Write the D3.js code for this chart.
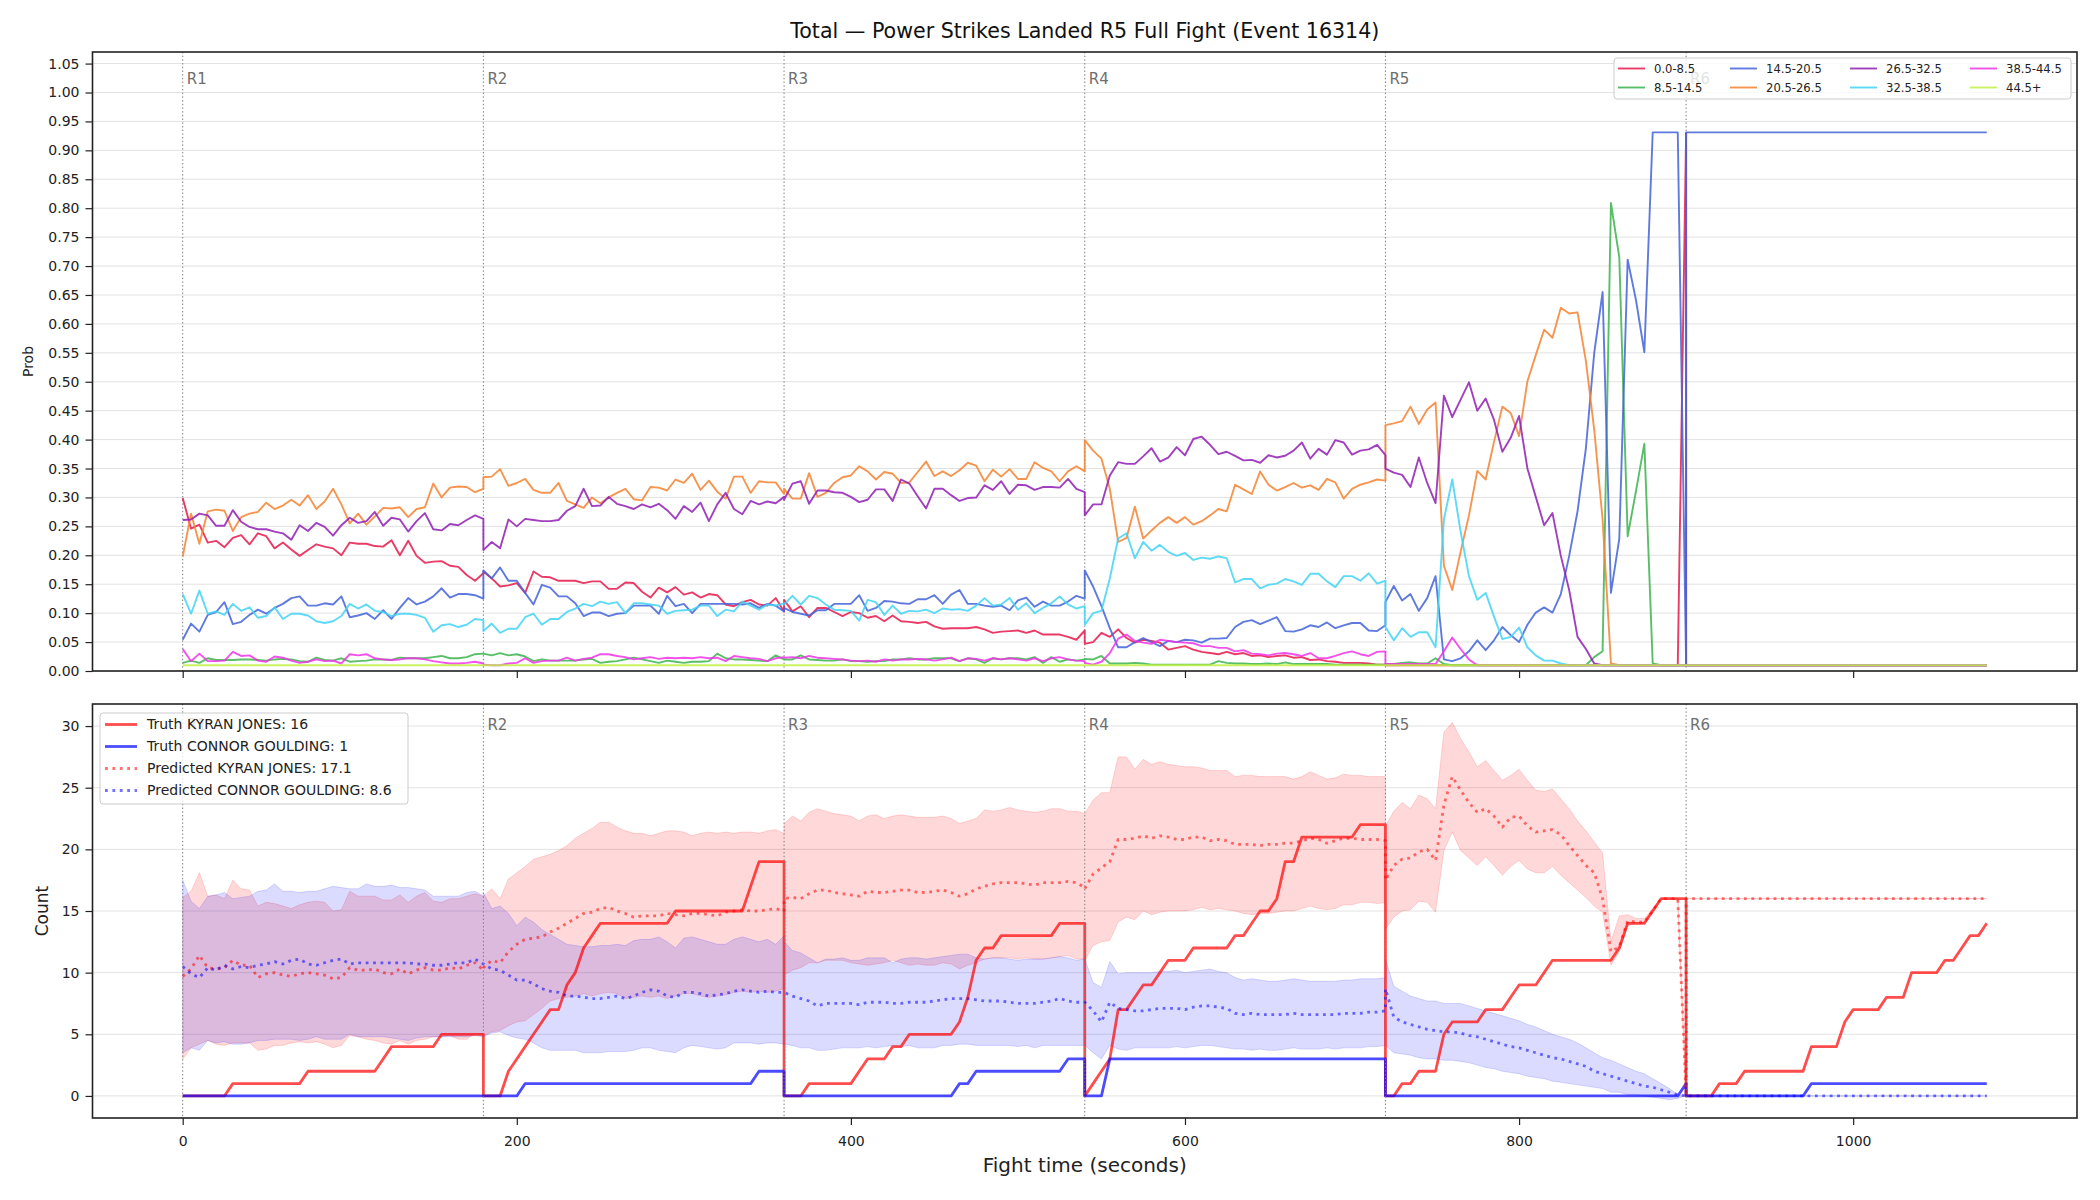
<!DOCTYPE html>
<html>
<head>
<meta charset="utf-8">
<script src="https://cdn.jsdelivr.net/npm/d3@7"></script>
<style>
  body { margin: 0; background: #fff; }
</style>
</head>
<body>
<svg id="chart" width="2100" height="1200"></svg>
<script>
//* Time grid: every round is sampled 0..180 s in 5 s steps
const roundStarts = [0, 180, 360, 540, 720, 900];
const roundNames = ["R1", "R2", "R3", "R4", "R5", "R6"];
const roundOffsets = [0,5,10,15,20,25,30,35,40,45,50,55,60,65,70,75,80,85,90,95,100,105,110,115,120,125,130,135,140,145,150,155,160,165,170,175,180];

//* Top panel: probability per bin (one line per round)
const binLabels = ["0.0-8.5", "8.5-14.5", "14.5-20.5", "20.5-26.5", "26.5-32.5", "32.5-38.5", "38.5-44.5", "44.5+"];

const prob00_85 = [
  .299,.246,.253,.222,.225,.214,.230,.235,.219,.238, .233,.212,.222,.210,.199,.209,.219,.215,.212,.200, .222,.220,.220,.216,.215,.226,.200,.225,.199,.187, .189,.190,.182,.180,.166,.156,.169,
  .172,.160,.146,.148,.152,.135,.172,.163,.162,.156, .156,.156,.152,.155,.155,.142,.142,.153,.152,.137, .127,.144,.136,.145,.132,.136,.127,.133,.131,.115, .112,.119,.123,.115,.113,.126,.103,
  .123,.103,.112,.093,.109,.109,.102,.095,.102,.100, .092,.095,.086,.096,.086,.085,.083,.085,.077,.073, .074,.074,.074,.076,.072,.066,.068,.069,.070,.066, .070,.063,.063,.063,.059,.054,.070,
  .047,.050,.066,.059,.072,.057,.049,.054,.052,.049, .037,.040,.043,.037,.033,.031,.029,.033,.029,.031, .026,.027,.024,.026,.027,.023,.024,.019,.020,.017, .016,.014,.014,.014,.013,.011,.011,
  .010,.010,.010,.010,.010,.010,.010,.010,.010,.010, .010,.010,.010,.010,.010,.010,.010,.010,.010,.010, .010,.010,.010,.010,.010,.010,.010,.010,.010,.010, .010,.010,.010,.010,.010,.010,.930,
  .010,.010,.010,.010,.010,.010,.010,.010,.010,.010, .010,.010,.010,.010,.010,.010,.010,.010,.010,.010, .010,.010,.010,.010,.010,.010,.010,.010,.010,.010, .010,.010,.010,.010,.010,.010,.010
];
const prob85_145 = [
  .014,.018,.014,.022,.019,.019,.019,.020,.020,.019, .018,.020,.021,.020,.017,.016,.023,.019,.018,.022, .016,.017,.018,.020,.020,.019,.023,.022,.022,.022, .024,.026,.022,.022,.024,.029,.030,
  .030,.027,.031,.027,.029,.025,.017,.020,.018,.018, .018,.018,.020,.021,.014,.016,.017,.020,.023,.020, .017,.014,.018,.016,.014,.016,.016,.017,.030,.022, .020,.020,.019,.018,.017,.027,.020,
  .020,.020,.027,.020,.019,.018,.018,.020,.017,.017, .016,.017,.017,.020,.020,.022,.020,.020,.022,.022, .022,.017,.022,.020,.014,.022,.020,.022,.022,.020, .024,.014,.024,.016,.020,.018,.020,
  .021,.020,.026,.013,.013,.013,.014,.013,.011,.011, .011,.011,.011,.011,.011,.011,.017,.014,.013,.013, .012,.012,.013,.012,.015,.012,.012,.012,.012,.012, .011,.011,.011,.011,.011,.011,.011,
  .012,.012,.014,.015,.013,.013,.022,.012,.010,.010, .010,.010,.010,.010,.010,.010,.010,.010,.010,.010, .010,.010,.010,.010,.010,.024,.034,.809,.715,.233, .311,.393,.013,.010,.010,.010,.010,
  .010,.010,.010,.010,.010,.010,.010,.010,.010,.010, .010,.010,.010,.010,.010,.010,.010,.010,.010,.010, .010,.010,.010,.010,.010,.010,.010,.010,.010,.010, .010,.010,.010,.010,.010,.010,.010
];
const prob145_205 = [
  .054,.082,.068,.097,.102,.119,.081,.085,.097,.106, .099,.109,.116,.126,.129,.113,.113,.117,.115,.129, .093,.096,.100,.090,.105,.090,.109,.126,.115,.120, .129,.143,.127,.133,.133,.131,.125,
  .174,.160,.179,.156,.156,.135,.115,.149,.144,.129, .129,.117,.095,.101,.101,.095,.099,.100,.113,.113, .113,.099,.130,.112,.116,.100,.116,.116,.116,.116, .116,.115,.117,.109,.116,.113,.103,
  .109,.102,.099,.096,.105,.105,.116,.116,.116,.131, .104,.109,.121,.120,.117,.116,.124,.124,.131,.116, .132,.140,.116,.116,.113,.111,.113,.105,.122,.127, .111,.120,.113,.113,.120,.130,.125,
  .174,.146,.112,.074,.041,.041,.050,.057,.050,.043, .052,.050,.054,.053,.049,.056,.056,.057,.076,.085, .088,.081,.087,.093,.069,.068,.072,.079,.076,.084, .074,.079,.083,.083,.070,.069,.079,
  .119,.147,.122,.133,.104,.126,.164,.020,.017,.022, .034,.053,.036,.053,.076,.062,.050,.080,.101,.110, .101,.133,.199,.276,.385,.550,.655,.135,.229,.711, .641,.551,.931,.931,.931,.931,.010,
  .931,.931,.931,.931,.931,.931,.931,.931,.931,.931, .931,.931,.931,.931,.931,.931,.931,.931,.931,.931, .931,.931,.931,.931,.931,.931,.931,.931,.931,.931, .931,.931,.931,.931,.931,.931,.931
];
const prob205_265 = [
  .198,.272,.220,.276,.279,.277,.242,.266,.272,.275, .291,.280,.286,.296,.286,.304,.280,.293,.315,.288, .255,.272,.253,.267,.282,.281,.283,.266,.280,.283, .324,.300,.317,.319,.318,.309,.315,
  .335,.336,.349,.320,.325,.332,.313,.308,.308,.325, .294,.288,.282,.300,.290,.300,.308,.315,.297,.295, .318,.317,.312,.331,.325,.341,.313,.329,.310,.298, .336,.336,.308,.328,.326,.326,.306,
  .315,.298,.298,.342,.301,.308,.325,.335,.338,.354, .345,.331,.344,.341,.325,.326,.344,.362,.337,.345, .337,.347,.360,.355,.328,.348,.336,.349,.332,.332, .361,.351,.345,.328,.345,.354,.345,
  .399,.381,.367,.315,.223,.230,.284,.229,.243,.256, .266,.256,.266,.253,.259,.269,.280,.276,.322,.314, .306,.345,.322,.312,.318,.325,.317,.321,.313,.332, .326,.298,.315,.322,.326,.331,.329,
  .425,.428,.432,.457,.427,.452,.464,.182,.140,.206, .269,.346,.331,.396,.457,.446,.406,.501,.546,.590, .576,.628,.618,.620,.536,.417,.262,.013,.010,.010, .010,.010,.010,.010,.010,.010,.010,
  .010,.010,.010,.010,.010,.010,.010,.010,.010,.010, .010,.010,.010,.010,.010,.010,.010,.010,.010,.010, .010,.010,.010,.010,.010,.010,.010,.010,.010,.010, .010,.010,.010,.010,.010,.010,.010
];
const prob265_325 = [
  .261,.262,.272,.269,.251,.251,.278,.258,.249,.245, .245,.241,.238,.227,.252,.242,.256,.249,.234,.252, .265,.256,.259,.275,.251,.265,.262,.241,.259,.273, .245,.243,.254,.252,.261,.269,.263,
  .209,.223,.212,.262,.250,.263,.261,.259,.259,.261, .277,.285,.315,.285,.286,.301,.289,.285,.280,.288, .283,.289,.278,.263,.285,.275,.291,.259,.288,.308, .280,.271,.294,.288,.293,.290,.301,
  .296,.324,.328,.289,.312,.312,.309,.308,.301,.292, .296,.314,.314,.294,.331,.324,.302,.281,.315,.315, .304,.294,.299,.300,.321,.313,.328,.306,.322,.321, .313,.318,.318,.317,.332,.315,.309,
  .269,.288,.288,.338,.361,.358,.358,.371,.385,.362, .369,.387,.373,.401,.405,.391,.375,.379,.372,.364, .365,.360,.373,.369,.372,.381,.395,.367,.384,.374, .399,.395,.374,.381,.383,.391,.373,
  .350,.343,.339,.318,.369,.325,.290,.476,.439,.469, .499,.450,.471,.434,.379,.403,.441,.350,.301,.252, .273,.199,.140,.059,.038,.013,.010,.010,.010,.010, .010,.010,.010,.010,.010,.010,.010,
  .010,.010,.010,.010,.010,.010,.010,.010,.010,.010, .010,.010,.010,.010,.010,.010,.010,.010,.010,.010, .010,.010,.010,.010,.010,.010,.010,.010,.010,.010, .010,.010,.010,.010,.010,.010,.010
];
const prob325_385 = [
  .133,.099,.139,.099,.103,.097,.116,.104,.110,.092, .095,.110,.090,.099,.099,.096,.086,.083,.086,.095, .116,.108,.115,.104,.102,.095,.099,.099,.097,.092, .068,.079,.081,.076,.080,.090,.088,
  .069,.082,.066,.073,.073,.093,.099,.080,.090,.090, .102,.108,.116,.112,.120,.116,.119,.100,.117,.117, .115,.113,.099,.104,.105,.106,.113,.113,.095,.106, .103,.120,.113,.106,.115,.113,.117,
  .115,.130,.115,.130,.126,.115,.106,.105,.104,.087, .123,.119,.097,.113,.099,.104,.103,.106,.100,.108, .106,.107,.104,.113,.126,.113,.115,.126,.106,.117, .100,.109,.117,.129,.115,.108,.112,
  .080,.100,.104,.160,.229,.238,.195,.223,.208,.218, .206,.199,.204,.192,.196,.194,.198,.195,.153,.159, .159,.143,.149,.151,.159,.155,.149,.168,.168,.155, .145,.164,.164,.156,.169,.151,.156,
  .076,.053,.074,.059,.067,.067,.041,.262,.331,.241, .164,.123,.135,.094,.055,.059,.075,.041,.027,.018, .018,.013,.010,.010,.010,.010,.010,.010,.010,.010, .010,.010,.010,.010,.010,.010,.010,
  .010,.010,.010,.010,.010,.010,.010,.010,.010,.010, .010,.010,.010,.010,.010,.010,.010,.010,.010,.010, .010,.010,.010,.010,.010,.010,.010,.010,.010,.010, .010,.010,.010,.010,.010,.010,.010
];
const prob385_445 = [
  .038,.017,.030,.017,.017,.018,.033,.026,.027,.018, .016,.025,.023,.018,.014,.016,.020,.017,.018,.013, .029,.027,.029,.022,.020,.019,.020,.022,.022,.020, .017,.015,.013,.013,.014,.016,.013,
  .011,.010,.010,.013,.014,.022,.014,.017,.018,.018, .023,.018,.021,.023,.029,.029,.026,.024,.020,.022, .024,.021,.023,.022,.023,.022,.024,.022,.023,.017, .026,.024,.022,.021,.017,.022,.024,
  .023,.024,.022,.026,.023,.022,.021,.020,.018,.017, .018,.016,.020,.018,.020,.020,.021,.020,.018,.020, .023,.017,.022,.021,.018,.022,.020,.022,.020,.018, .022,.017,.022,.024,.020,.018,.017,
  .014,.011,.016,.031,.056,.063,.052,.049,.047,.054, .052,.050,.049,.048,.043,.043,.040,.040,.034,.036, .030,.029,.027,.030,.031,.029,.026,.031,.022,.022, .026,.031,.034,.029,.026,.033,.034,
  .012,.012,.012,.012,.012,.012,.012,.034,.058,.038, .020,.010,.010,.010,.010,.010,.010,.010,.010,.010, .010,.010,.010,.010,.010,.010,.010,.010,.010,.010, .010,.010,.010,.010,.010,.010,.010,
  .010,.010,.010,.010,.010,.010,.010,.010,.010,.010, .010,.010,.010,.010,.010,.010,.010,.010,.010,.010, .010,.010,.010,.010,.010,.010,.010,.010,.010,.010, .010,.010,.010,.010,.010,.010,.010
];
const prob445p = [
  .010,.010,.010,.010,.010,.010,.010,.010,.010,.010, .010,.010,.010,.010,.010,.010,.010,.010,.010,.010, .010,.010,.010,.010,.010,.010,.010,.010,.010,.010, .010,.010,.010,.010,.010,.010,.010,
  .010,.010,.010,.010,.010,.010,.010,.010,.010,.010, .010,.010,.010,.010,.010,.010,.010,.010,.010,.010, .010,.010,.010,.010,.010,.010,.010,.010,.010,.010, .010,.010,.010,.010,.010,.010,.010,
  .010,.010,.010,.010,.010,.010,.010,.010,.010,.010, .010,.010,.010,.010,.010,.010,.010,.010,.010,.010, .010,.010,.010,.010,.010,.010,.010,.010,.010,.010, .010,.010,.010,.010,.010,.010,.010,
  .010,.010,.010,.010,.010,.010,.010,.010,.010,.010, .010,.010,.010,.010,.010,.010,.010,.010,.010,.010, .010,.010,.010,.010,.010,.010,.010,.010,.010,.010, .010,.010,.010,.010,.010,.010,.010,
  .010,.010,.010,.010,.010,.010,.010,.010,.010,.010, .010,.010,.010,.010,.010,.010,.010,.010,.010,.010, .010,.010,.010,.010,.010,.010,.010,.010,.010,.010, .010,.010,.010,.010,.010,.010,.010,
  .010,.010,.010,.010,.010,.010,.010,.010,.010,.010, .010,.010,.010,.010,.010,.010,.010,.010,.010,.010, .010,.010,.010,.010,.010,.010,.010,.010,.010,.010, .010,.010,.010,.010,.010,.010,.010
];

//* Bottom panel: counts
const truthKyran = [
  0,0,0,0,0,0,1,1,1,1, 1,1,1,1,1,2,2,2,2,2, 2,2,2,2,3,4,4,4,4,4, 4,5,5,5,5,5,5,
  0,0,0,2,3,4,5,6,7,7, 9,10,12,13,14,14,14,14,14,14, 14,14,14,15,15,15,15,15,15,15, 15,15,17,19,19,19,19,
  0,0,0,1,1,1,1,1,1,2, 3,3,3,4,4,5,5,5,5,5, 5,6,8,11,12,12,13,13,13,13, 13,13,13,14,14,14,14,
  0,1,2,3,7,7,8,9,9,10, 11,11,11,12,12,12,12,12,13,13, 14,15,15,16,19,19,21,21,21,21, 21,21,21,22,22,22,22,
  0,0,1,1,2,2,2,5,6,6, 6,6,7,7,7,8,9,9,9,10, 11,11,11,11,11,11,11,11,12,14, 14,14,15,16,16,16,16,
  0,0,0,0,1,1,1,2,2,2, 2,2,2,2,2,4,4,4,4,6, 7,7,7,7,8,8,8,10,10,10, 10,11,11,12,13,13,14
];
const truthConnor = [
  0,0,0,0,0,0,0,0,0,0, 0,0,0,0,0,0,0,0,0,0, 0,0,0,0,0,0,0,0,0,0, 0,0,0,0,0,0,0,
  0,0,0,0,0,1,1,1,1,1, 1,1,1,1,1,1,1,1,1,1, 1,1,1,1,1,1,1,1,1,1, 1,1,1,2,2,2,2,
  0,0,0,0,0,0,0,0,0,0, 0,0,0,0,0,0,0,0,0,0, 0,1,1,2,2,2,2,2,2,2, 2,2,2,2,3,3,3,
  0,0,0,3,3,3,3,3,3,3, 3,3,3,3,3,3,3,3,3,3, 3,3,3,3,3,3,3,3,3,3, 3,3,3,3,3,3,3,
  0,0,0,0,0,0,0,0,0,0, 0,0,0,0,0,0,0,0,0,0, 0,0,0,0,0,0,0,0,0,0, 0,0,0,0,0,0,1,
  0,0,0,0,0,0,0,0,0,0, 0,0,0,0,0,1,1,1,1,1, 1,1,1,1,1,1,1,1,1,1, 1,1,1,1,1,1,1
];
const predKyran = [
  9.7,10.3,11.4,10.4,10.3,10.4,11.0,10.6,10.6,9.6, 9.9,10.0,9.8,9.7,9.9,10.0,9.9,9.8,9.5,9.6, 10.4,10.2,10.2,10.3,10.0,9.9,10.3,9.9,10.2,10.4, 10.2,10.2,10.4,10.3,10.6,10.8,10.2,
  10.4,11.0,10.8,11.7,12.3,12.7,12.8,12.9,13.3,13.6, 14.0,14.4,14.8,14.9,15.2,15.3,15.0,14.8,14.5,14.6, 14.6,14.6,14.8,14.7,14.6,14.8,14.8,14.7,14.6,14.9, 15.0,15.1,15.0,15.0,15.1,15.2,15.0,
  16.0,16.1,16.0,16.4,16.7,16.7,16.5,16.4,16.3,16.2, 16.6,16.5,16.5,16.6,16.7,16.7,16.5,16.5,16.6,16.7, 16.5,16.2,16.4,16.8,17.0,17.2,17.3,17.3,17.3,17.2, 17.1,17.3,17.3,17.3,17.4,17.3,16.9,
  16.8,18.0,18.5,19.0,20.8,20.8,20.9,21.1,20.9,21.1, 21.0,20.8,20.8,21.0,21.0,20.7,20.8,20.7,20.4,20.4, 20.4,20.3,20.4,20.4,20.5,20.5,20.7,20.9,20.8,20.5, 20.7,20.9,20.9,20.8,20.8,20.8,20.7,
  17.5,18.7,19.2,19.3,19.8,20.0,19.1,23.6,25.9,24.8, 23.8,23.0,23.3,22.7,21.8,22.6,22.7,21.9,21.4,21.5, 21.6,21.2,20.3,19.5,18.7,18.1,16.0,11.7,12.1,14.2, 14.1,14.1,15.0,16.0,16.0,16.0,0,
  16.0,16.0,16.0,16.0,16.0,16.0,16.0,16.0,16.0,16.0, 16.0,16.0,16.0,16.0,16.0,16.0,16.0,16.0,16.0,16.0, 16.0,16.0,16.0,16.0,16.0,16.0,16.0,16.0,16.0,16.0, 16.0,16.0,16.0,16.0,16.0,16.0,16.0
];
const predConnor = [
  10.5,9.9,9.6,10.4,10.2,10.6,10.3,10.5,10.4,10.6, 10.7,10.9,10.7,11.0,11.1,10.7,10.6,10.8,11.0,11.1, 10.7,10.8,10.8,10.8,10.8,10.8,10.8,10.8,10.7,10.7, 10.6,10.6,10.7,10.8,10.8,11.1,10.7,
  10.7,10.3,10.2,9.8,9.4,9.4,9.1,8.7,8.5,8.4, 8.1,8.1,8.0,7.9,7.9,8.0,8.1,7.9,8.1,8.4, 8.6,8.5,8.1,8.0,8.4,8.4,8.3,8.1,8.2,8.3, 8.5,8.6,8.5,8.4,8.5,8.4,8.4,
  8.4,8.1,7.9,7.7,7.3,7.5,7.5,7.5,7.5,7.4, 7.6,7.6,7.6,7.5,7.5,7.6,7.6,7.6,7.7,7.8, 7.9,7.9,7.9,7.8,7.7,7.7,7.7,7.6,7.5,7.5, 7.5,7.6,7.7,7.9,7.7,7.6,7.6,
  7.6,6.9,6.0,7.6,7.1,7.0,6.9,6.9,7.0,7.1, 7.1,7.1,7.0,7.2,7.3,7.3,7.2,7.1,6.7,6.6, 6.7,6.6,6.6,6.6,6.6,6.7,6.6,6.6,6.6,6.6, 6.6,6.7,6.7,6.7,6.8,6.8,6.9,
  8.7,6.4,6.0,5.8,5.6,5.4,5.3,5.2,5.2,5.1, 4.9,4.8,4.6,4.4,4.2,4.0,3.9,3.7,3.5,3.3, 3.1,3.0,2.8,2.6,2.4,2.0,1.8,1.6,1.4,1.2, 1.0,0.8,0.7,0.5,0.3,0.1,0,
  0,0,0,0,0,0,0,0,0,0, 0,0,0,0,0,0,0,0,0,0, 0,0,0,0,0,0,0,0,0,0, 0,0,0,0,0,0,0
];
const kyranLow = [
  3.0,3.9,4.2,4.5,4.2,4.1,4.3,4.3,4.3,3.7, 3.8,4.1,4.1,4.3,4.4,4.3,4.4,4.2,3.9,4.1, 4.9,4.8,4.6,4.5,4.3,4.2,4.5,4.2,4.5,4.6, 4.8,4.8,4.9,4.6,4.6,5.1,4.9,
  4.9,5.2,5.3,5.7,6.0,6.1,6.6,7.1,7.7,7.9, 8.0,8.1,8.3,8.1,8.3,8.4,8.3,7.9,8.0,8.1, 8.0,8.1,7.9,8.1,8.3,8.3,8.1,8.0,8.1,8.2, 8.4,8.5,8.4,8.5,8.4,8.5,8.7,
  9.8,10.2,10.4,10.8,10.8,11.0,11.0,11.0,10.8,10.7, 10.6,10.7,10.8,11.0,10.8,10.6,10.7,10.6,10.6,10.8, 10.7,10.3,10.6,10.8,11.1,11.2,11.2,11.2,11.1,11.2, 11.1,11.1,11.2,11.3,11.4,11.1,11.1,
  11.0,12.2,12.5,12.6,14.1,14.5,14.3,15.0,14.7,14.9, 15.0,15.0,15.0,15.1,15.3,15.1,15.2,15.1,15.0,14.8, 14.7,14.8,14.8,14.9,15.0,15.0,15.2,15.4,15.2,15.1, 15.2,15.5,15.5,15.7,15.7,15.6,15.7,
  13.5,14.5,15.0,15.1,15.8,15.7,14.9,19.9,21.4,19.9, 19.3,18.7,19.4,18.7,17.9,18.6,19.1,18.4,18.1,18.1, 18.6,17.9,17.3,16.7,16.1,15.4,14.9,10.6,11.7,13.8, 14.0,14.0,14.9,16.0,16.0,16.0,0,
  16.0,16.0,16.0,16.0,16.0,16.0,16.0,16.0,16.0,16.0, 16.0,16.0,16.0,16.0,16.0,16.0,16.0,16.0,16.0,16.0, 16.0,16.0,16.0,16.0,16.0,16.0,16.0,16.0,16.0,16.0, 16.0,16.0,16.0,16.0,16.0,16.0,16.0
];
const kyranHigh = [
  16.1,16.6,18.1,16.2,16.3,16.0,17.5,16.8,16.7,15.4, 15.7,15.6,15.4,15.2,15.5,15.7,15.8,15.7,15.0,15.1, 16.6,16.2,16.2,16.2,15.9,15.9,16.3,15.7,16.2,16.5, 15.8,15.7,16.0,16.0,16.2,16.4,16.2,
  16.2,16.8,16.0,17.6,18.1,18.6,19.2,19.4,19.6,19.9, 20.3,20.9,21.3,21.7,22.2,22.2,21.8,21.5,21.3,21.3, 21.1,21.3,21.5,21.5,21.4,21.1,21.3,21.4,21.3,21.4, 21.3,21.4,21.4,21.3,21.5,21.6,21.3,
  22.1,22.7,22.3,23.0,23.3,23.1,22.9,22.8,22.7,22.3, 22.7,22.8,22.5,22.7,22.8,22.7,22.6,22.6,22.6,22.7, 22.5,22.1,22.3,22.5,23.2,23.1,23.2,23.4,23.2,23.1, 23.0,23.1,23.3,23.3,23.1,23.1,22.9,
  22.9,24.0,24.6,24.6,27.5,27.5,26.5,27.3,26.9,27.1, 26.9,26.8,26.7,26.7,26.6,26.4,26.4,26.4,25.9,26.0, 26.0,25.9,25.9,25.9,25.9,25.7,25.9,26.3,26.0,25.7, 25.8,26.1,26.0,26.0,25.9,25.9,25.9,
  21.9,23.1,23.8,23.3,24.4,24.1,23.3,29.5,30.3,29.0, 27.9,26.7,27.2,26.4,25.6,26.0,26.5,25.6,24.8,24.7, 24.9,24.1,23.3,22.3,21.5,20.6,19.7,12.5,14.6,14.7, 14.4,14.4,15.2,16.0,16.0,16.0,0,
  16.0,16.0,16.0,16.0,16.0,16.0,16.0,16.0,16.0,16.0, 16.0,16.0,16.0,16.0,16.0,16.0,16.0,16.0,16.0,16.0, 16.0,16.0,16.0,16.0,16.0,16.0,16.0,16.0,16.0,16.0, 16.0,16.0,16.0,16.0,16.0,16.0,16.0
];
const connorLow = [
  3.5,3.9,3.7,4.5,4.3,4.4,4.2,4.2,4.3,4.5, 4.5,4.6,4.6,4.6,4.5,4.6,4.8,4.6,4.6,4.6, 5.0,4.8,4.8,4.8,4.8,4.7,4.6,4.5,4.7,4.8, 4.8,4.8,4.8,4.8,4.8,4.9,4.8,
  4.8,5.1,5.2,4.9,4.7,4.6,4.3,3.9,3.7,3.7, 3.7,3.7,3.5,3.5,3.5,3.6,3.6,3.6,3.7,3.9, 3.9,3.7,3.6,3.5,3.9,4.1,4.0,3.9,3.8,3.9, 4.3,4.3,4.3,4.2,4.3,4.3,4.2,
  4.2,4.1,3.9,3.9,3.7,3.7,3.8,3.9,3.9,3.9, 4.0,3.9,4.0,4.1,4.0,4.1,3.9,3.9,3.9,4.1, 4.1,4.2,4.2,4.1,4.1,4.1,4.1,4.1,4.0,4.1, 3.9,4.1,4.1,4.1,4.1,4.1,4.1,
  4.1,3.5,3.0,4.1,3.8,3.7,3.9,3.9,3.9,3.9, 3.9,4.0,3.9,4.0,4.1,4.1,4.0,3.9,3.8,3.8, 3.7,3.8,3.7,3.7,3.8,3.9,3.8,3.8,3.8,3.9, 3.8,3.9,3.9,3.9,4.0,4.0,4.1,
  4.1,3.5,3.4,3.3,3.1,3.0,3.0,2.9,2.9,2.8, 2.7,2.5,2.3,2.2,2.0,1.9,1.8,1.6,1.5,1.4, 1.2,1.1,1.0,0.9,0.8,0.7,0.6,0.3,0.3,0.1, 0.1,0.0,-0.1,-0.2,-0.3,-0.2,0,
  0,0,0,0,0,0,0,0,0,0, 0,0,0,0,0,0,0,0,0,0, 0,0,0,0,0,0,0,0,0,0, 0,0,0,0,0,0,0
];
const connorHigh = [
  17.5,15.8,15.2,16.2,16.3,16.5,16.0,16.1,16.2,16.6, 16.7,17.2,16.6,16.6,16.5,16.6,16.6,16.8,17.0,16.9, 16.8,16.8,17.2,17.0,17.0,17.1,16.9,16.9,16.8,16.7, 16.2,16.2,16.2,16.2,16.5,16.6,16.2,
  16.5,15.2,15.4,14.8,13.8,14.5,14.1,13.5,13.1,12.7, 12.3,12.2,12.1,12.1,12.2,12.2,12.3,12.2,12.6,12.7, 12.7,12.9,12.5,12.0,12.8,12.9,12.7,12.5,12.3,12.3, 12.7,12.9,12.7,12.5,12.7,12.3,13.0,
  12.5,11.8,11.6,11.2,10.8,11.1,11.1,11.2,11.0,11.0, 11.2,11.2,11.2,10.8,11.1,11.2,11.2,11.1,11.2,11.3, 11.4,11.5,11.5,11.2,11.1,11.2,11.2,11.1,11.0,11.1, 11.1,11.1,11.2,11.3,11.2,11.0,11.1,
  11.1,9.2,8.8,10.9,9.9,10.0,10.0,10.0,10.0,10.1, 10.1,10.2,10.0,10.1,10.2,10.3,10.1,10.0,9.6,9.4, 9.5,9.4,9.3,9.3,9.4,9.5,9.4,9.3,9.3,9.3, 9.3,9.4,9.4,9.5,9.5,9.5,9.6,
  11.1,8.9,8.5,8.1,7.9,7.7,7.7,7.5,7.5,7.5, 7.3,7.1,6.9,6.7,6.5,6.3,6.1,5.8,5.6,5.3, 5.0,4.8,4.6,4.3,3.9,3.5,3.1,2.9,2.6,2.3, 2.0,1.8,1.4,1.0,0.6,0.1,0,
  0,0,0,0,0,0,0,0,0,0, 0,0,0,0,0,0,0,0,0,0, 0,0,0,0,0,0,0,0,0,0, 0,0,0,0,0,0,0
];

//* Tick values
const probTicks = [0.00,0.05,0.10,0.15,0.20,0.25,0.30,0.35,0.40,0.45,0.50,0.55,0.60,0.65,0.70,0.75,0.80,0.85,0.90,0.95,1.00,1.05];
const countTicks = [0, 5, 10, 15, 20, 25, 30];
const timeTicks = [0, 200, 400, 600, 800, 1000];

//* Set chart area
const FONT = "DejaVu Sans, sans-serif";
const left = 92.5, right = 2077;
const topBox = { y0: 52, y1: 671 };
const botBox = { y0: 704, y1: 1118 };

const times = roundStarts.flatMap(s => roundOffsets.map(o => s + o));

const allSeries = { prob00_85, prob85_145, prob145_205, prob205_265, prob265_325, prob325_385, prob385_445, prob445p,
  truthKyran, truthConnor, predKyran, predConnor, kyranLow, kyranHigh, connorLow, connorHigh };
Object.entries(allSeries).forEach(([name, arr]) => {
  if (arr.length !== times.length) throw new Error(name + " has " + arr.length + " values, expected " + times.length);
});

const x = d3.scaleLinear().domain([-54, 1134]).range([left, right]);
const yProb = d3.scaleLinear().domain([0, 1.07]).range([topBox.y1, topBox.y0]);
const yCount = d3.scaleLinear().domain([-1.79, 31.79]).range([botBox.y1, botBox.y0]);

const svg = d3.select("#chart").style("font-family", FONT);
svg.append("rect").attr("width", 2100).attr("height", 1200).attr("fill", "#fff");

const defs = svg.append("defs");
[["clipTop", topBox], ["clipBot", botBox]].forEach(([id, b]) => {
  defs.append("clipPath").attr("id", id).append("rect")
    .attr("x", left).attr("y", b.y0).attr("width", right - left).attr("height", b.y1 - b.y0);
});

// title
svg.append("text")
  .attr("x", (left + right) / 2).attr("y", 38)
  .attr("text-anchor", "middle").attr("font-size", 20.6).attr("fill", "#111")
  .text("Total \u2014 Power Strikes Landed R5 Full Fight (Event 16314)");

//* Helpers
function drawGrid(g, y, ticks) {
  g.selectAll("line.grid").data(ticks).join("line")
    .attr("class", "grid")
    .attr("x1", left).attr("x2", right)
    .attr("y1", d => y(d)).attr("y2", d => y(d))
    .attr("stroke", "#e2e2e2").attr("stroke-width", 1);
}

function drawRounds(g, box, labelY) {
  g.selectAll("line.round").data(roundStarts).join("line")
    .attr("class", "round")
    .attr("x1", d => x(d)).attr("x2", d => x(d))
    .attr("y1", box.y0).attr("y2", box.y1)
    .attr("stroke", "#7a7a7a").attr("stroke-width", 1)
    .attr("stroke-dasharray", "1.4,2.3");
  g.selectAll("text.round").data(roundStarts).join("text")
    .attr("class", "round")
    .attr("x", d => x(d) + 4).attr("y", labelY)
    .attr("font-size", 15).attr("fill", "#6e6e6e")
    .text((d, i) => roundNames[i]);
}

function drawAxes(g, box, y, yTicks, yFmt, showX) {
  const ay = g.append("g")
    .attr("transform", `translate(${left},0)`)
    .call(d3.axisLeft(y).tickValues(yTicks).tickFormat(yFmt).tickSize(7).tickPadding(6));
  const ax = g.append("g")
    .attr("transform", `translate(0,${box.y1})`)
    .call(d3.axisBottom(x).tickValues(timeTicks).tickFormat(showX ? d3.format("d") : "").tickSize(7).tickPadding(11));
  [ay, ax].forEach(a => {
    a.select(".domain").remove();
    a.attr("font-family", FONT).attr("font-size", 14);
    a.selectAll(".tick line").attr("stroke", "#222").attr("stroke-width", 1.2);
    a.selectAll(".tick text").attr("fill", "#222");
  });
  g.append("rect")
    .attr("x", left).attr("y", box.y0)
    .attr("width", right - left).attr("height", box.y1 - box.y0)
    .attr("fill", "none").attr("stroke", "#222").attr("stroke-width", 1.6);
}

//* Top panel: bin probabilities
const topG = svg.append("g");
drawGrid(topG, yProb, probTicks);
drawRounds(topG, topBox, 84);

const probSeries = [
  { label: binLabels[0], values: prob00_85, color: "#e6194b" },
  { label: binLabels[1], values: prob85_145, color: "#3cb44b" },
  { label: binLabels[2], values: prob145_205, color: "#4363d8" },
  { label: binLabels[3], values: prob205_265, color: "#f58231" },
  { label: binLabels[4], values: prob265_325, color: "#911eb4" },
  { label: binLabels[5], values: prob325_385, color: "#42d4f4" },
  { label: binLabels[6], values: prob385_445, color: "#f032e6" },
  { label: binLabels[7], values: prob445p, color: "#bfef45" }
];

const probLine = d3.line().x((d, i) => x(times[i])).y(d => yProb(d));
topG.append("g").attr("clip-path", "url(#clipTop)")
  .selectAll("path").data(probSeries).join("path")
  .attr("d", d => probLine(d.values))
  .attr("fill", "none").attr("stroke", d => d.color)
  .attr("stroke-width", 1.9).attr("stroke-opacity", 0.85)
  .attr("stroke-linejoin", "round");

drawAxes(topG, topBox, yProb, probTicks, d3.format(".2f"), false);

svg.append("text")
  .attr("transform", `translate(33,${(topBox.y0 + topBox.y1) / 2}) rotate(-90)`)
  .attr("text-anchor", "middle").attr("font-size", 14).attr("fill", "#222")
  .text("Prob");

// top legend (4 columns, filled column-wise)
const legTop = svg.append("g");
legTop.append("rect")
  .attr("x", 1614).attr("y", 58).attr("width", 457).attr("height", 41).attr("rx", 3)
  .attr("fill", "#fff").attr("fill-opacity", 0.8)
  .attr("stroke", "#cccccc").attr("stroke-width", 1);
const legColX = [1618, 1730, 1850, 1970];
const legRowY = [68.5, 87.5];
probSeries.forEach((s, i) => {
  const cx = legColX[Math.floor(i / 2)], cy = legRowY[i % 2];
  legTop.append("line")
    .attr("x1", cx).attr("x2", cx + 27).attr("y1", cy).attr("y2", cy)
    .attr("stroke", s.color).attr("stroke-width", 1.9).attr("stroke-opacity", 0.85);
  legTop.append("text")
    .attr("x", cx + 36).attr("y", cy).attr("dy", "0.35em")
    .attr("font-size", 11.6).attr("fill", "#222")
    .text(s.label);
});

//* Bottom panel: counts
const botG = svg.append("g");
drawGrid(botG, yCount, countTicks);

const band = (lo, hi) => d3.area()
  .x((d, i) => x(times[i]))
  .y0((d, i) => yCount(lo[i]))
  .y1((d, i) => yCount(hi[i]))(lo);

const plotBot = botG.append("g").attr("clip-path", "url(#clipBot)");
plotBot.append("path").attr("d", band(kyranLow, kyranHigh))
  .attr("fill", "red").attr("fill-opacity", 0.15)
  .attr("stroke", "red").attr("stroke-opacity", 0.15).attr("stroke-width", 1);
plotBot.append("path").attr("d", band(connorLow, connorHigh))
  .attr("fill", "blue").attr("fill-opacity", 0.14)
  .attr("stroke", "blue").attr("stroke-opacity", 0.14).attr("stroke-width", 1);

drawRounds(botG, botBox, 730);

const countLine = d3.line().x((d, i) => x(times[i])).y(d => yCount(d));
const countSeries = [
  { label: "Truth KYRAN JONES: 16", values: truthKyran, color: "red", dash: null, opacity: 0.7 },
  { label: "Truth CONNOR GOULDING: 1", values: truthConnor, color: "blue", dash: null, opacity: 0.7 },
  { label: "Predicted KYRAN JONES: 17.1", values: predKyran, color: "red", dash: "2.8,4.6", opacity: 0.55 },
  { label: "Predicted CONNOR GOULDING: 8.6", values: predConnor, color: "blue", dash: "2.8,4.6", opacity: 0.55 }
];
plotBot.selectAll("path.count").data(countSeries).join("path")
  .attr("class", "count")
  .attr("d", d => countLine(d.values))
  .attr("fill", "none").attr("stroke", d => d.color)
  .attr("stroke-opacity", d => d.opacity)
  .attr("stroke-width", 2.8)
  .attr("stroke-dasharray", d => d.dash)
  .attr("stroke-linejoin", "round");

drawAxes(botG, botBox, yCount, countTicks, d3.format("d"), true);

svg.append("text")
  .attr("transform", `translate(47.5,${(botBox.y0 + botBox.y1) / 2}) rotate(-90)`)
  .attr("text-anchor", "middle").attr("font-size", 17).attr("fill", "#222")
  .text("Count");

svg.append("text")
  .attr("x", (left + right) / 2).attr("y", 1172)
  .attr("text-anchor", "middle").attr("font-size", 20).attr("fill", "#222")
  .text("Fight time (seconds)");

// bottom legend
const legBot = svg.append("g");
legBot.append("rect")
  .attr("x", 100).attr("y", 713).attr("width", 308).attr("height", 91).attr("rx", 3)
  .attr("fill", "#fff").attr("fill-opacity", 0.8)
  .attr("stroke", "#cccccc").attr("stroke-width", 1);
const legBotY = [724.5, 746.5, 768.5, 790.5];
countSeries.forEach((s, i) => {
  legBot.append("line")
    .attr("x1", 105).attr("x2", 137).attr("y1", legBotY[i]).attr("y2", legBotY[i])
    .attr("stroke", s.color).attr("stroke-opacity", s.opacity)
    .attr("stroke-width", 2.8).attr("stroke-dasharray", s.dash);
  legBot.append("text")
    .attr("x", 147).attr("y", legBotY[i]).attr("dy", "0.35em")
    .attr("font-size", 14).attr("fill", "#222")
    .text(s.label);
});
</script>
</body>
</html>
